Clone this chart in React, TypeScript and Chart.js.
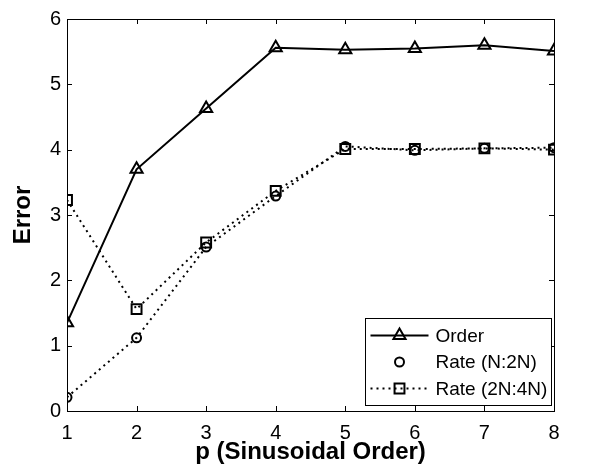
import React, { useEffect, useRef } from "react";
import { Chart, registerables } from "chart.js";

Chart.register(...registerables);

const pValues = [1, 2, 3, 4, 5, 6, 7, 8];
const orderValues = [1.35, 3.7, 4.63, 5.56, 5.53, 5.55, 5.6, 5.51];
const rateN2N = [0.21, 1.12, 2.51, 3.29, 4.05, 3.99, 4.02, 4.03];
const rate2N4N = [3.23, 1.56, 2.58, 3.37, 4.01, 4.01, 4.02, 4.0];
const seriesLabels = ["Order", "Rate (N:2N)", "Rate (2N:4N)"];
const xTicks = [1, 2, 3, 4, 5, 6, 7, 8];
const yTicks = [0, 1, 2, 3, 4, 5, 6];
const xTitle = "p (Sinusoidal Order)";
const yTitle = "Error";

const FONT = '"Liberation Sans", Arial, sans-serif';

function drawMarker(ctx: CanvasRenderingContext2D, style: string, x: number, y: number, r: number) {
  ctx.beginPath();
  if (style === "triangle") {
    for (let i = 0; i < 3; i++) {
      const a = (i * 2 * Math.PI) / 3;
      const px = x + Math.sin(a) * r;
      const py = y - Math.cos(a) * r;
      if (i === 0) ctx.moveTo(px, py);
      else ctx.lineTo(px, py);
    }
    ctx.closePath();
  } else if (style === "circle") {
    ctx.arc(x, y, r, 0, Math.PI * 2);
  } else {
    const s = Math.SQRT1_2 * r;
    ctx.rect(x - s, y - s, 2 * s, 2 * s);
  }
  ctx.stroke();
}

const boxPlugin = {
  id: "matlabBox",
  afterDraw(chart: any) {
    const { ctx, chartArea } = chart;
    const xs = chart.scales.x;
    const ys = chart.scales.y;
    ctx.save();
    ctx.strokeStyle = "#000";
    ctx.lineWidth = 1;
    ctx.strokeRect(
      Math.round(chartArea.left) + 0.5,
      Math.round(chartArea.top) + 0.5,
      Math.round(chartArea.right - chartArea.left),
      Math.round(chartArea.bottom - chartArea.top)
    );
    const tl = 5;
    ctx.beginPath();
    xTicks.forEach((v) => {
      const px = Math.round(xs.getPixelForValue(v)) + 0.5;
      ctx.moveTo(px, chartArea.bottom);
      ctx.lineTo(px, chartArea.bottom - tl);
      ctx.moveTo(px, chartArea.top);
      ctx.lineTo(px, chartArea.top + tl);
    });
    yTicks.forEach((v) => {
      const py = Math.round(ys.getPixelForValue(v)) + 0.5;
      ctx.moveTo(chartArea.left, py);
      ctx.lineTo(chartArea.left + tl, py);
      ctx.moveTo(chartArea.right, py);
      ctx.lineTo(chartArea.right - tl, py);
    });
    ctx.stroke();

    // legend
    const bw = 186;
    const bh = 87;
    const bx = Math.round(chartArea.right - 3 - bw) + 0.5;
    const by = Math.round(chartArea.bottom - 6 - bh) + 0.5;
    ctx.fillStyle = "#fff";
    ctx.fillRect(bx, by, bw, bh);
    ctx.strokeRect(bx, by, bw, bh);
    const styles = ["triangle", "circle", "rect"];
    const radii = [7, 4.5, 7];
    const dashes = [[], [2, 4], [2, 4]];
    chart.data.datasets.forEach((ds: any, i: number) => {
      const rowY = by + 17 + i * 26.5;
      ctx.save();
      ctx.lineWidth = 2;
      ctx.strokeStyle = "#000";
      if (i !== 1) {
        ctx.setLineDash(dashes[i]);
        ctx.beginPath();
        ctx.moveTo(bx + 5, rowY);
        ctx.lineTo(bx + 63, rowY);
        ctx.stroke();
      }
      ctx.setLineDash([]);
      drawMarker(ctx, styles[i], bx + 34, rowY, radii[i]);
      ctx.restore();
      ctx.fillStyle = "#000";
      ctx.font = `19px ${FONT}`;
      ctx.textBaseline = "middle";
      ctx.textAlign = "left";
      ctx.fillText(ds.label, bx + 70, rowY + 1);
    });
    ctx.restore();
  },
};

export default function App() {
  const canvasRef = useRef<HTMLCanvasElement | null>(null);

  useEffect(() => {
    document.body.style.margin = "0";
    const canvas = canvasRef.current;
    if (!canvas) return;
    const mk = (vals: number[]) => pValues.map((p, i) => ({ x: p, y: vals[i] }));
    const chart = new Chart(canvas, {
      type: "line",
      data: {
        datasets: [
          {
            label: seriesLabels[0],
            data: mk(orderValues),
            borderColor: "#000",
            borderWidth: 2,
            pointStyle: "triangle",
            pointRadius: 7,
            pointBorderWidth: 2,
            pointBorderColor: "#000",
            pointBackgroundColor: "rgba(0,0,0,0)",
            fill: false,
            tension: 0,
          },
          {
            label: seriesLabels[1],
            data: mk(rateN2N),
            borderColor: "#000",
            borderWidth: 2,
            borderDash: [2, 4],
            pointStyle: "circle",
            pointRadius: 4.5,
            pointBorderWidth: 2,
            pointBorderColor: "#000",
            pointBackgroundColor: "rgba(0,0,0,0)",
            fill: false,
            tension: 0,
          },
          {
            label: seriesLabels[2],
            data: mk(rate2N4N),
            borderColor: "#000",
            borderWidth: 2,
            borderDash: [2, 4],
            pointStyle: "rect",
            pointRadius: 7,
            pointBorderWidth: 2,
            pointBorderColor: "#000",
            pointBackgroundColor: "rgba(0,0,0,0)",
            fill: false,
            tension: 0,
          },
        ],
      },
      options: {
        responsive: false,
        animation: false,
        layout: { padding: { top: 19, right: 42, left: 0, bottom: 0 } },
        plugins: { legend: { display: false }, tooltip: { enabled: false } },
        scales: {
          x: {
            type: "linear",
            min: 1,
            max: 8,
            grid: { display: false, drawTicks: false },
            border: { display: false },
            ticks: {
              stepSize: 1,
              color: "#000",
              padding: 10,
              font: { family: FONT, size: 20 },
            },
            title: {
              display: true,
              text: xTitle,
              color: "#000",
              font: { family: FONT, size: 24, weight: "bold" },
              padding: { top: 0, bottom: 2 },
            },
            afterFit(scale: any) {
              scale.height = 58;
            },
          },
          y: {
            type: "linear",
            min: 0,
            max: 6,
            grid: { display: false, drawTicks: false },
            border: { display: false },
            ticks: {
              stepSize: 1,
              color: "#000",
              padding: 6,
              font: { family: FONT, size: 20 },
            },
            title: {
              display: true,
              text: yTitle,
              color: "#000",
              font: { family: FONT, size: 24, weight: "bold" },
              padding: { top: 9, bottom: 0 },
            },
            afterFit(scale: any) {
              scale.width = 67;
            },
          },
        },
      },
      plugins: [boxPlugin],
    });
    return () => chart.destroy();
  }, []);

  return (
    <div style={{ width: 596, height: 469 }}>
      <canvas ref={canvasRef} width={596} height={469} />
    </div>
  );
}
